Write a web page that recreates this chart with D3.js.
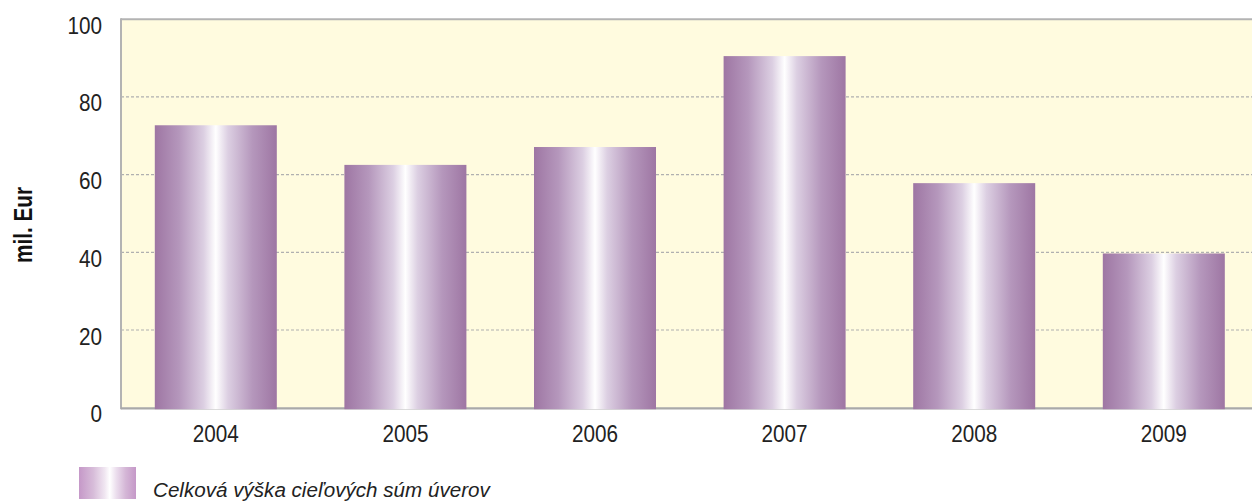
<!DOCTYPE html>
<html>
<head>
<meta charset="utf-8">
<script src="https://cdn.jsdelivr.net/npm/d3@7"></script>
<style>
html,body{margin:0;padding:0;background:#fff;}
svg{display:block;}
text{font-family:"Liberation Sans",Arial,sans-serif;}
</style>
</head>
<body>
<svg id="chart" width="1252" height="501"></svg>
<script>
const categories = ["2004","2005","2006","2007","2008","2009"];
const values = [72.7, 62.5, 67.1, 90.5, 57.8, 39.7];
const yTicks = [0, 20, 40, 60, 80, 100];
const yLabel = "mil. Eur";
const legendLabel = "Celková výška cieľových súm úverov";

const svg = d3.select("#chart");
const plotLeft = 121, plotTop = 19.2, plotBottom = 407.7, plotRight = 1252;
const SX = 0.9; // condensed look

const x = d3.scaleBand().domain(categories).range([plotLeft, plotLeft + 6*189.6])
  .paddingInner(0.3565).paddingOuter(0.3565/2);
const y = d3.scaleLinear().domain([0, 100]).range([plotBottom, plotTop]);

const defs = svg.append("defs");
const g1 = defs.append("linearGradient").attr("id","barGrad").attr("x1","0").attr("x2","1").attr("y1","0").attr("y2","0");
[[0,"#9e76a3"],[0.2,"#b597bc"],[0.4,"#dccfe2"],[0.5,"#ffffff"],[0.6,"#dccfe2"],[0.8,"#b597bc"],[1,"#9e76a3"]]
  .forEach(([o,c]) => g1.append("stop").attr("offset",o).attr("stop-color",c));
const g2 = defs.append("linearGradient").attr("id","legGrad").attr("x1","0").attr("x2","1").attr("y1","0").attr("y2","0");
[[0,"#c598c8"],[0.25,"#d7bcd9"],[0.45,"#f0e6f1"],[0.54,"#ffffff"],[0.65,"#ecdfee"],[0.82,"#d4b6d6"],[1,"#c598c8"]]
  .forEach(([o,c]) => g2.append("stop").attr("offset",o).attr("stop-color",c));

svg.append("rect").attr("x", plotLeft).attr("y", plotTop).attr("width", plotRight - plotLeft)
  .attr("height", plotBottom - plotTop).attr("fill", "#fffbdf");

svg.append("g").selectAll("line").data(yTicks.filter(d => d > 0 && d < 100)).join("line")
  .attr("x1", plotLeft).attr("x2", plotRight)
  .attr("y1", d => y(d)).attr("y2", d => y(d))
  .attr("stroke", "#b0b0b0").attr("stroke-width", 1.2).attr("stroke-dasharray", "3,2");

svg.append("line").attr("x1", plotLeft).attr("x2", plotRight).attr("y1", y(100)).attr("y2", y(100))
  .attr("stroke", "#b3b3b3").attr("stroke-width", 2);
svg.append("line").attr("x1", plotLeft).attr("x2", plotLeft).attr("y1", y(100)-1).attr("y2", plotBottom+1.5)
  .attr("stroke", "#b3b3b3").attr("stroke-width", 2);
svg.append("line").attr("x1", plotLeft).attr("x2", plotRight).attr("y1", plotBottom+0.6).attr("y2", plotBottom+0.6)
  .attr("stroke", "#a9a9a9").attr("stroke-width", 2.2);

svg.append("g").selectAll("rect").data(categories).join("rect")
  .attr("x", d => x(d)).attr("width", x.bandwidth())
  .attr("y", (d,i) => y(values[i])).attr("height", (d,i) => y(0) - y(values[i]) + 1.5)
  .attr("fill", "url(#barGrad)");

const ya = svg.append("g").attr("transform", `translate(${plotLeft},0)`)
  .call(d3.axisLeft(y).tickValues(yTicks).tickSize(0).tickPadding(19));
ya.select(".domain").remove();
ya.selectAll("text").attr("dy", 0).attr("y", 14).attr("x", -19 / SX)
  .attr("transform", `scale(${SX},1)`)
  .style("font-size", "23px").attr("fill", "#222")
  .style("font-family", '"Liberation Sans",Arial,sans-serif');

const xa = svg.append("g").attr("transform", `translate(0,${plotBottom})`)
  .call(d3.axisBottom(x).tickSize(0));
xa.select(".domain").remove();
xa.selectAll("text").attr("dy", 0).attr("y", 34)
  .attr("transform", `scale(${SX},1)`)
  .style("font-size", "23px").attr("fill", "#222")
  .style("font-family", '"Liberation Sans",Arial,sans-serif');

const yl = svg.append("text").attr("text-anchor", "middle")
  .style("font-size", "26px").style("font-weight", "bold")
  .attr("fill", "#111").text(yLabel);
const ylw = yl.node().getComputedTextLength();
yl.attr("transform", `translate(32,225) rotate(-90) scale(${76/ylw},1)`);

svg.append("rect").attr("x", 79).attr("y", 467).attr("width", 57).attr("height", 32)
  .attr("fill", "url(#legGrad)");
const lt = svg.append("text").attr("x", 0).attr("y", 0).style("font-size", "21px")
  .style("font-style", "italic").attr("fill", "#222").text(legendLabel);
const ltw = lt.node().getComputedTextLength();
lt.attr("transform", `translate(153,497) scale(${337/ltw},1)`);
</script>
</body>
</html>
